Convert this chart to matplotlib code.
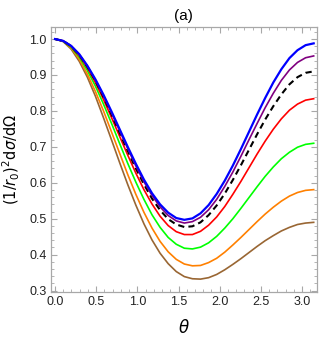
import numpy as np
import matplotlib
matplotlib.use('Agg')
import matplotlib.pyplot as plt
from matplotlib.ticker import MultipleLocator

plt.rcParams['font.family'] = ['Liberation Sans', 'DejaVu Sans']
plt.rcParams['mathtext.fontset'] = 'dejavusans'

# 33 points from 0 to pi
theta = np.linspace(0, np.pi, 33)

blue = [1.000,0.995,0.981,0.958,0.926,0.888,0.845,0.798,0.749,0.700,0.653,0.609,0.571,0.540,0.517,0.502,0.497,
        0.501,0.515,0.538,0.569,0.606,0.648,0.694,0.742,0.790,0.836,0.879,0.916,0.947,0.969,0.983,0.988]
purple = [1.000,0.995,0.981,0.957,0.925,0.886,0.842,0.794,0.745,0.695,0.647,0.603,0.565,0.533,0.509,0.494,0.488,
          0.492,0.504,0.525,0.554,0.590,0.630,0.674,0.720,0.765,0.809,0.849,0.885,0.914,0.935,0.948,0.953]
black = [1.000,0.995,0.980,0.956,0.923,0.884,0.839,0.790,0.739,0.689,0.640,0.596,0.556,0.524,0.499,0.484,0.477,
         0.479,0.490,0.510,0.537,0.570,0.608,0.649,0.692,0.735,0.776,0.813,0.846,0.874,0.894,0.906,0.910]
red = [1.000,0.995,0.979,0.954,0.920,0.879,0.832,0.781,0.729,0.677,0.627,0.581,0.541,0.507,0.481,0.464,0.456,
       0.456,0.465,0.482,0.505,0.534,0.568,0.604,0.642,0.680,0.716,0.749,0.778,0.802,0.819,0.830,0.834]
green = [1.000,0.994,0.977,0.950,0.913,0.869,0.819,0.765,0.709,0.654,0.602,0.554,0.511,0.476,0.448,0.429,0.418,
         0.416,0.421,0.433,0.451,0.474,0.500,0.529,0.559,0.589,0.618,0.644,0.667,0.685,0.699,0.707,0.710]
orange = [1.000,0.994,0.975,0.944,0.903,0.854,0.800,0.741,0.682,0.623,0.568,0.518,0.474,0.437,0.408,0.387,0.374,
          0.369,0.370,0.378,0.390,0.407,0.427,0.448,0.470,0.492,0.513,0.532,0.549,0.563,0.573,0.579,0.581]
brown = [1.000,0.993,0.972,0.938,0.894,0.841,0.781,0.719,0.656,0.595,0.538,0.486,0.441,0.404,0.375,0.353,0.339,
         0.333,0.332,0.336,0.345,0.358,0.373,0.389,0.406,0.423,0.439,0.453,0.466,0.476,0.484,0.488,0.490]

fig = plt.figure(figsize=(3.22, 3.44), dpi=100)
ax = fig.add_axes([0.158, 0.151, 0.826, 0.771])

# draw back to front
ax.plot(theta, brown, color=(0.6, 0.4, 0.2), lw=1.2)
ax.plot(theta, orange, color=(1, 0.5, 0), lw=1.2)
ax.plot(theta, green, color=(0, 1, 0), lw=1.2)
ax.plot(theta, red, color=(1, 0, 0), lw=1.2)
ax.plot(theta, black, color='black', lw=1.5, ls=(0, (3, 2)))
ax.plot(theta, purple, color=(0.5, 0, 0.5), lw=1.2)
ax.plot(theta, blue, color=(0, 0, 1), lw=1.6)

ax.set_xlim(-0.05, 3.18)
ax.set_ylim(0.296, 1.034)
ax.xaxis.set_major_locator(MultipleLocator(0.5))
ax.xaxis.set_minor_locator(MultipleLocator(0.1))
ax.yaxis.set_major_locator(MultipleLocator(0.1))
ax.yaxis.set_minor_locator(MultipleLocator(0.02))
ax.xaxis.set_major_formatter(plt.FormatStrFormatter('%.1f'))
ax.yaxis.set_major_formatter(plt.FormatStrFormatter('%.1f'))

for s in ax.spines.values():
    s.set_color('#a8a8a8')
    s.set_linewidth(0.9)
ax.tick_params(which='both', direction='in', top=True, right=True, color='#a8a8a8',
               labelsize=9, labelcolor='#222222', pad=3)
ax.tick_params(which='major', length=4, width=0.8)
ax.tick_params(which='minor', length=2, width=0.6)

ax.set_xlabel(r'$\theta$', fontsize=12, labelpad=7)
ax.set_ylabel(r'$(1/r_0)^2\mathrm{d}\sigma/\mathrm{d}\Omega$', fontsize=10.5, labelpad=5)
ax.set_title('(a)', fontsize=11, pad=5)

fig.savefig('out.png', dpi=100)
